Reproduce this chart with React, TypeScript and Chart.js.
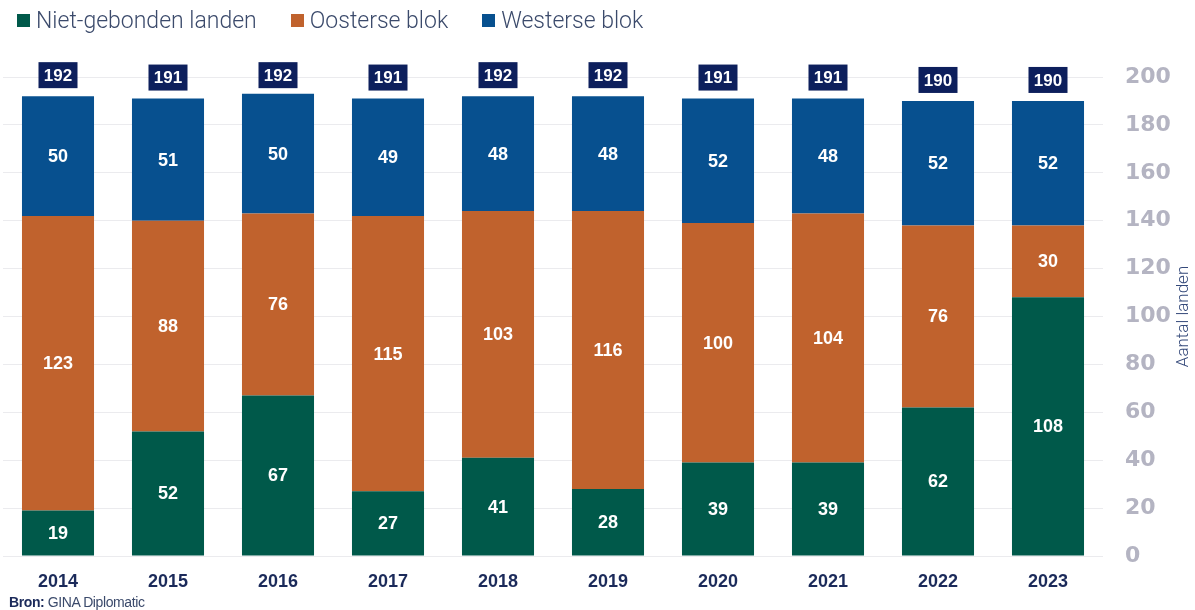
import React, { useEffect, useRef } from "react";
import { Chart, registerables } from "chart.js";

Chart.register(...registerables);

const years = ["2014", "2015", "2016", "2017", "2018", "2019", "2020", "2021", "2022", "2023"];
const nonAligned = [19, 52, 67, 27, 41, 28, 39, 39, 62, 108];
const eastern = [123, 88, 76, 115, 103, 116, 100, 104, 76, 30];
const western = [50, 51, 50, 49, 48, 48, 52, 48, 52, 52];
const totals = [192, 191, 192, 191, 192, 192, 191, 191, 190, 190];
const yTicks = [0, 20, 40, 60, 80, 100, 120, 140, 160, 180, 200];
const yTitle = "Aantal landen";

const GREEN = "#00594a";
const ORANGE = "#c0622d";
const BLUE = "#07508f";
const NAVY = "#0d1f5c";

const seriesNames = ["Niet-gebonden landen", "Oosterse blok", "Westerse blok"];
const seriesColors = [GREEN, ORANGE, BLUE];

const labelsPlugin = {
  id: "segLabels",
  afterDatasetsDraw(chart: any) {
    const ctx = chart.ctx;
    const yScale = chart.scales.y;
    const area = chart.chartArea;
    ctx.save();
    ctx.textAlign = "center";
    ctx.textBaseline = "middle";
    chart.data.datasets.forEach((ds: any, di: number) => {
      const meta = chart.getDatasetMeta(di);
      meta.data.forEach((bar: any, i: number) => {
        const v = ds.data[i];
        ctx.fillStyle = "#ffffff";
        ctx.font = "bold 18px 'Liberation Sans', Arial, sans-serif";
        ctx.fillText(String(v), bar.x, (bar.y + bar.base) / 2 + 1);
      });
    });
    const lastMeta = chart.getDatasetMeta(chart.data.datasets.length - 1);
    lastMeta.data.forEach((bar: any, i: number) => {
      const yTop = yScale.getPixelForValue(totals[i]);
      const w = 39;
      const h = 26;
      const bottom = yTop - 8;
      ctx.fillStyle = NAVY;
      ctx.fillRect(bar.x - w / 2, bottom - h, w, h);
      ctx.fillStyle = "#ffffff";
      ctx.font = "bold 17px 'Liberation Sans', Arial, sans-serif";
      ctx.fillText(String(totals[i]), bar.x, bottom - h / 2 + 1);
    });
    // rotated axis title (reads bottom-to-top)
    ctx.translate(1184, (area.top + area.bottom) / 2);
    ctx.rotate(-Math.PI / 2);
    ctx.fillStyle = "#34497a";
    ctx.font = "300 17px Roboto, sans-serif";
    ctx.fillText(yTitle, 0, 0);
    ctx.restore();
  },
};

export default function App() {
  const ref = useRef<HTMLCanvasElement | null>(null);

  useEffect(() => {
    if (!ref.current) return;
    const chart = new Chart(ref.current, {
      type: "bar",
      data: {
        labels: years,
        datasets: [
          { label: seriesNames[0], data: nonAligned, backgroundColor: GREEN },
          { label: seriesNames[1], data: eastern, backgroundColor: ORANGE },
          { label: seriesNames[2], data: western, backgroundColor: BLUE },
        ],
      },
      options: {
        animation: false,
        responsive: false,
        maintainAspectRatio: false,
        layout: { padding: { top: 77, left: 3, right: 0, bottom: 0 } },
        datasets: {
          bar: { barPercentage: 0.655, categoryPercentage: 1, borderWidth: 0 },
        },
        plugins: {
          legend: { display: false },
          tooltip: { enabled: false },
        },
        scales: {
          x: {
            stacked: true,
            grid: { display: false },
            border: { display: false },
            afterFit: (axis: any) => {
              axis.height = 54;
            },
            ticks: {
              color: "#1b2a5a",
              padding: 7,
              font: { family: "'Liberation Sans', Arial, sans-serif", size: 18, weight: "bold" },
            },
          },
          y: {
            stacked: true,
            position: "right",
            min: 0,
            max: 200,
            afterBuildTicks: (axis: any) => {
              axis.ticks = yTicks.map((v) => ({ value: v }));
            },
            afterFit: (axis: any) => {
              axis.width = 92;
            },
            grid: { color: "#ebebee", drawTicks: false, lineWidth: 1 },
            border: { display: false },
            ticks: {
              color: "#b4b4c2",
              padding: 22,
              font: { family: "'DejaVu Sans', sans-serif", size: 22, weight: "bold" },
            },
          },
        },
      },
      plugins: [labelsPlugin],
    });
    return () => chart.destroy();
  }, []);

  return (
    <div style={{ position: "fixed", top: 0, left: 0, width: 1195, height: 610, background: "#fff" }}>
      <canvas ref={ref} width={1195} height={610} style={{ position: "absolute", left: 0, top: 0 }} />
      <div
        style={{
          position: "absolute",
          left: 17,
          top: 6,
          height: 28,
          display: "flex",
          alignItems: "center",
          fontFamily: "Roboto, sans-serif",
          fontWeight: 300,
          fontSize: 23,
          color: "#3b4a6b",
          whiteSpace: "nowrap",
        }}
      >
        {seriesNames.map((n, i) => (
          <div key={n} style={{ display: "flex", alignItems: "center", marginRight: 34 }}>
            <span style={{ width: 13, height: 13, background: seriesColors[i], display: "inline-block", marginRight: 6 }} />
            <span>{n}</span>
          </div>
        ))}
      </div>
      <div
        style={{
          position: "absolute",
          left: 9,
          top: 594,
          fontFamily: "'Liberation Sans', Arial, sans-serif",
          fontSize: 14,
          color: "#3b4a6b",
          letterSpacing: "-0.4px",
          whiteSpace: "nowrap",
        }}
      >
        <span style={{ fontWeight: "bold", color: "#1b2a5a" }}>Bron:</span> GINA Diplomatic
      </div>
    </div>
  );
}
